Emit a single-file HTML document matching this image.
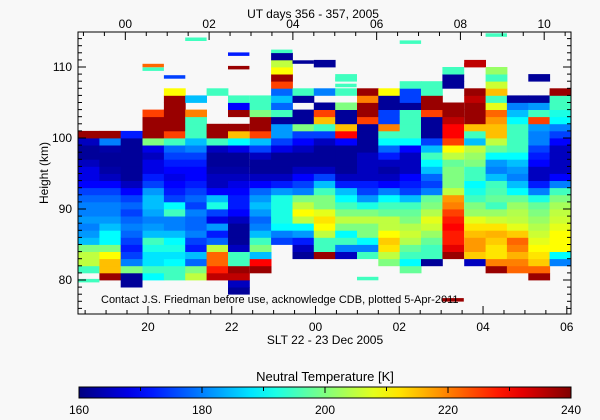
<!DOCTYPE html>
<html><head><meta charset="utf-8">
<style>
html,body{margin:0;padding:0;background:#f8f8f8;}
svg{display:block;font-family:"Liberation Sans",sans-serif;}
text{fill:#000;}
</style></head>
<body>
<svg id="chart" width="600" height="420" viewBox="0 0 600 420" xmlns="http://www.w3.org/2000/svg">
<rect x="0" y="0" width="600" height="420" fill="#f8f8f8"/>
<g id="cells"></g>
<g id="axes"></g>
<text x="313" y="18" font-size="12" text-anchor="middle">UT days 356 - 357, 2005</text>
<text x="325" y="344" font-size="12" text-anchor="middle">SLT 22 - 23 Dec 2005</text>
<text x="48" y="173" font-size="12" text-anchor="middle" transform="rotate(-90 48 173)">Height (km)</text>
<text x="101" y="303" font-size="11">Contact J.S. Friedman before use, acknowledge CDB, plotted 5-Apr-2011</text>
<text x="325" y="381" font-size="13" text-anchor="middle">Neutral Temperature [K]</text>
<defs><linearGradient id="jet" x1="0" x2="1" y1="0" y2="0"></linearGradient></defs>
<rect x="79" y="387" width="492" height="11" fill="url(#jet)" stroke="#000" stroke-width="1"/>
<g id="cbticks"></g>
</svg>
<script>
// ---- data ----
const colStartHours = [18.33,18.84,19.35,19.87,20.38,20.89,21.40,21.91,22.43,22.94,23.45,23.96,24.47,24.99,25.50,26.01,26.52,27.03,27.55,28.06,28.57,29.08,29.59];
const baseKm = [81,80,79,80,80,80,80,78,81,85,83,83,83,83,82,81,82,83,82,81,81,80,82];
const temps = [
[195,205,205,200,185,182,180,182,180,180,178,175,170,168,168,165,162,162,165,238],
[238,215,215,210,200,190,190,185,182,180,180,178,175,170,165,163,162,162,163,180,238],
[162,162,200,180,175,172,175,178,180,178,175,178,175,170,165,162,162,162,162,162,162,172],
[190,195,188,188,192,195,185,182,180,183,185,185,182,175,172,168,168,165,168,200,238,238,238,225],
[195,195,190,188,192,190,185,180,180,195,190,175,172,170,168,170,172,175,178,195,225,238,238,238,238,238,210],
[205,200,178,185,172,175,180,178,178,180,175,178,175,172,170,170,172,175,180,185,195,195,195,220,null,185],
[235,228,222,222,205,178,172,182,168,175,192,185,170,165,165,163,162,162,165,195,238,238,null,null,null,null,195],
[162,165,235,238,195,195,165,162,162,162,165,170,172,172,170,168,165,163,162,162,168,190,215,238,null,238,170,195],
[238,230,185,200,195,185,180,178,182,185,182,178,170,165,162,162,165,175,185,225,238,238,200,195,195],
[175,180,190,192,192,192,192,182,172,165,162,162,162,168,175,182,182,162,195,178,185,178,225,238,210,205,162],
[162,165,172,182,190,205,210,205,200,180,175,170,165,162,162,165,170,175,200,162,162,null,162,195],
[238,195,195,205,210,212,208,200,200,195,185,175,165,162,162,162,165,175,195,215,225,162,null,180,null,null,null,162],
[165,180,195,190,200,205,200,195,190,185,172,165,162,162,162,162,170,230,215,162,162,200,null,195,null,195],
[195,180,190,200,200,205,200,192,182,175,172,165,165,165,165,162,162,162,162,225,238,238,220,238],
[200,205,212,214,210,205,205,198,195,190,180,170,165,163,165,172,178,190,195,220,175,175,162,162,210],
[198,190,195,198,204,206,204,200,198,195,185,175,172,170,165,165,165,170,190,195,195,195,195,162,175,175,195],
[162,195,195,198,202,206,208,204,200,198,180,175,178,185,190,195,185,175,162,162,162,225,238,238,195,195],
[238,232,228,228,230,228,225,220,218,205,200,200,200,198,205,210,225,230,230,235,238,238,null,null,162,162,195],
[165,214,218,218,215,212,208,202,200,195,192,190,195,195,200,202,205,185,195,215,238,238,238,235,238,null,null,null,235],
[238,220,212,212,214,216,212,206,202,195,198,196,195,185,180,182,190,198,205,215,215,218,222,208,195,215,206,195,202],
[222,220,216,220,222,214,208,205,204,202,198,190,185,180,182,185,190,195,195,195,195,190,185,180,162],
[238,222,214,212,210,208,206,204,202,200,198,192,180,172,165,165,170,172,175,180,180,182,225,195,182,162,null,null,162],
[180,190,210,210,210,208,206,205,203,200,195,180,170,165,165,165,165,170,175,180,190,192,195,195,238]
];
// sporadic thin cells: column index, km, temperature
const spotCols = [5,3,3,7,7,4,12,12,15,17,18,19,22,9,10,0,13];
const spotKm   = [113.9,110.2,109.7,111.8,109.9,108.6,108.3,107.4,113.5,77.2,110.3,114.5,106.3,112.2,110.7,79.9,80.2];
const spotTemp = [195,222,195,172,238,175,195,195,195,238,235,195,238,195,162,195,195];
const slTicks = [20,22,24,26,28,30];
const slLabels = ["20","22","00","02","04","06"];
const utTicks = [0,2,4,6,8,10];
const utLabels = ["00","02","04","06","08","10"];
const hTicks = [80,90,100,110];
const cbTicks = [160,180,200,220,240];

// ---- scales ----
const X0=78, X1=571, Y0=32, Y1=314;
const HMIN=18.33, HMAX=30.1;
const xs = h => X0 + (h-HMIN)/(HMAX-HMIN)*(X1-X0);
const ys = km => 138 - (km-100)*7.1;
const utOffset = 19.46;
const cbx = t => 79 + (t-160)/80*492;
function jet(t){
  const f=Math.max(0,Math.min(1,(t-160)/80));
  const c=v=>Math.round(255*Math.max(0,Math.min(1,v)));
  return `rgb(${c(1.5-Math.abs(4*f-3))},${c(1.5-Math.abs(4*f-2))},${c(1.5-Math.abs(4*f-1))})`;
}
const NS="http://www.w3.org/2000/svg";
function mk(tag,attrs,parent){const e=document.createElementNS(NS,tag);for(const k in attrs)e.setAttribute(k,attrs[k]);parent.appendChild(e);return e;}

// ---- cells ----
const cg=document.getElementById('cells');
const colW = 0.512;
temps.forEach((arr,ci)=>{
  const xa=xs(colStartHours[ci]), xb=Math.min(X1,xs(colStartHours[ci]+colW));
  arr.forEach((v,i)=>{
    if(v===null) return;
    const km=baseKm[ci]+i;
    const r=mk('rect',{x:xa.toFixed(1),y:ys(km+1).toFixed(1),width:(xb-xa+0.4).toFixed(1),height:(ys(km)-ys(km+1)+0.4).toFixed(1),fill:jet(v)},cg);
    
    
  });
});
spotCols.forEach((ci,i)=>{
  const xa=xs(colStartHours[ci]), xb=xs(colStartHours[ci]+colW);
  const r=mk('rect',{x:xa.toFixed(1),y:ys(spotKm[i]+0.25).toFixed(1),width:(xb-xa).toFixed(1),height:3.5,fill:jet(spotTemp[i])},cg);
  
  
});

// ---- axes ----
const ag=document.getElementById('axes');
const frame=mk('rect',{x:X0,y:Y0,width:X1-X0,height:Y1-Y0,fill:'none',stroke:'#000','stroke-width':1},ag);


for(let h=18.5;h<=30.05;h+=0.5){
  const x=xs(h), major=Math.abs(h/2-Math.round(h/2))<0.01;
  mk('line',{x1:x,y1:Y1,x2:x,y2:Y1-(major?8:4),stroke:'#000'},ag);
}
for(let u=-1.5;u<=10.5;u+=0.5){
  const x=xs(u+utOffset); if(x<X0||x>X1) continue;
  const major=Math.abs(u/2-Math.round(u/2))<0.01;
  mk('line',{x1:x,y1:Y0,x2:x,y2:Y0+(major?8:4),stroke:'#000'},ag);
}
for(let k=76;k<=114;k++){
  const y=ys(k); const major=k%10===0;
  mk('line',{x1:X0,y1:y,x2:X0+(major?8:4),y2:y,stroke:'#000'},ag);
  mk('line',{x1:X1,y1:y,x2:X1-(major?8:4),y2:y,stroke:'#000'},ag);
}
slTicks.forEach((h,i)=>{
  const t=mk('text',{x:xs(h),y:Y1+17,'font-size':12,'text-anchor':'middle'},ag);
  t.textContent=slLabels[i];
  
  
});
utTicks.forEach((u,i)=>{
  const t=mk('text',{x:xs(u+utOffset),y:28,'font-size':12,'text-anchor':'middle'},ag);
  t.textContent=utLabels[i];
  
  
});
hTicks.forEach(k=>{
  const t=mk('text',{x:X0-6,y:ys(k)+4,'font-size':12,'text-anchor':'end'},ag);
  t.textContent=String(k);
  
  
});

// ---- colorbar ----
const grad=document.getElementById('jet');
for(let i=0;i<=20;i++){mk('stop',{offset:(i/20),'stop-color':jet(160+i*4)},grad);}
const cb=document.getElementById('cbticks');
for(let t=160;t<=240;t+=10){
  mk('line',{x1:cbx(t),y1:387,x2:cbx(t),y2:(t%20===0?393:391),stroke:'#000'},cb);
}
cbTicks.forEach(t=>{
  const e=mk('text',{x:cbx(t),y:414,'font-size':12,'text-anchor':'middle'},cb);
  e.textContent=String(t);
  
  
});
</script>
</body></html>
